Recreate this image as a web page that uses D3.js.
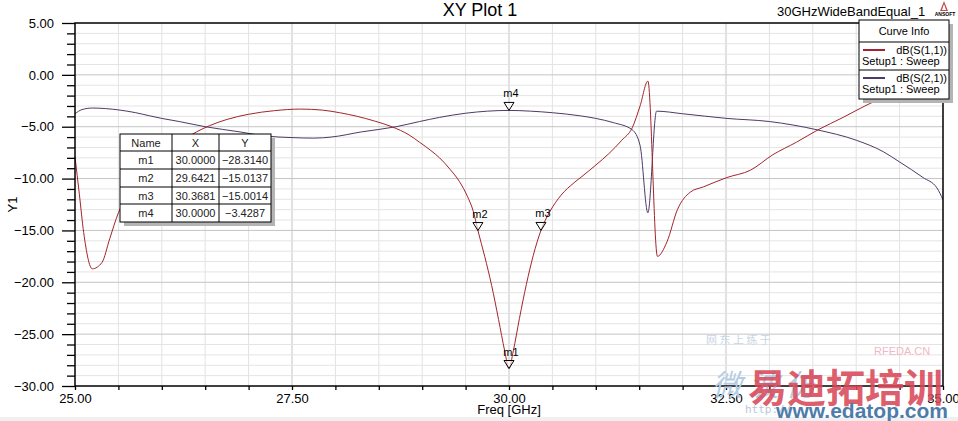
<!DOCTYPE html>
<html>
<head>
<meta charset="utf-8">
<script src="https://cdn.jsdelivr.net/npm/d3@7"></script>
<style>
  html, body { margin: 0; padding: 0; background: #fff; }
  svg { display: block; font-family: "Liberation Sans", Arial, sans-serif; }
</style>
</head>
<body>
<div id="chart"></div>
<script>
// dB(S(1,1))
var s11Freq = [25.00, 25.05, 25.10, 25.20, 25.31, 25.40, 25.50, 25.75, 26.00, 26.20, 26.40, 26.55, 26.75, 27.00,
  27.30, 27.60, 27.85, 28.05, 28.25, 28.45, 28.65, 28.85, 28.97, 29.10, 29.20, 29.32, 29.43, 29.52, 29.59,
  29.6421, 29.72, 29.80, 29.88, 29.95, 30.00, 30.05, 30.12, 30.20, 30.28, 30.3681, 30.47, 30.60, 30.75, 30.84,
  31.00, 31.15, 31.30, 31.42, 31.51, 31.60, 31.71, 31.82, 31.94, 32.09, 32.24, 32.51, 32.78, 33.04, 33.31,
  33.56, 33.85, 34.10, 34.31, 34.60, 35.00];
var s11dB = [-7.9, -11.5, -15.2, -18.7, -18.1, -15.8, -13.3, -10.4, -8.2, -6.6, -5.5, -4.9, -4.3, -3.8,
  -3.45, -3.3, -3.4, -3.65, -4.0, -4.45, -5.0, -5.8, -6.5, -7.3, -8.0, -9.1, -10.3, -11.7, -13.2,
  -15.0137, -17.5, -20.3, -23.6, -26.6, -28.314, -26.6, -23.5, -20.2, -17.4, -15.0014, -13.2, -11.6, -10.4, -9.8,
  -8.7, -7.6, -6.3, -5.1, -3.0, -0.6, -17.5, -16.1, -13.0, -11.3, -10.8, -9.9, -9.2, -7.7, -6.5,
  -5.3, -4.1, -3.0, -2.2, -1.5, -0.9];

// dB(S(2,1))
var s21Freq = [25.00, 25.08, 25.20, 25.35, 25.52, 25.70, 25.86, 26.00, 26.20, 26.50, 26.90, 27.20, 27.50, 27.75,
  27.95, 28.30, 28.70, 28.97, 29.20, 29.50, 29.75, 30.00, 30.25, 30.50, 30.82, 31.00, 31.20, 31.42, 31.51,
  31.60, 31.70, 32.00, 32.51, 33.00, 33.55, 34.00, 34.31, 34.50, 34.77, 34.93, 35.00];
var s21dB = [-3.75, -3.35, -3.2, -3.25, -3.4, -3.65, -3.95, -4.2, -4.5, -5.0, -5.5, -5.9, -6.05, -6.1,
  -6.0, -5.5, -5.0, -4.5, -4.1, -3.7, -3.5, -3.4287, -3.5, -3.65, -3.95, -4.2, -4.6, -5.3, -6.8,
  -13.3, -3.5, -3.75, -4.2, -4.5, -5.3, -6.3, -7.4, -8.4, -9.9, -10.9, -12.05];

var markerNames = ["m1", "m2", "m3", "m4"];
var markerX = [30.0000, 29.6421, 30.3681, 30.0000];
var markerY = [-28.3140, -15.0137, -15.0014, -3.4287];

var curveNames = ["dB(S(1,1))", "dB(S(2,1))"];
var curveColors = ["#a3242c", "#4e3a66"];

var W = 958, H = 421;
var x = d3.scaleLinear().domain([25, 35]).range([75, 943]);
var y = d3.scaleLinear().domain([-30, 5]).range([386, 23]);
var f2 = d3.format(".2f"), f4 = d3.format(".4f");

var svg = d3.select("#chart").append("svg").attr("width", W).attr("height", H);

// bottom strip of the window
svg.append("rect").attr("x", 0).attr("y", 417).attr("width", W).attr("height", 4).attr("fill", "#f0f0f0");

// grid
var grid = svg.append("g");
grid.selectAll(".vg").data(d3.range(25.5, 35, 0.5)).enter().append("line")
  .attr("x1", function (d) { return x(d); }).attr("x2", function (d) { return x(d); })
  .attr("y1", y(5)).attr("y2", y(-30))
  .attr("stroke", function (d) { return Math.abs(d % 2.5) < 1e-6 ? "#c4c4c4" : "#e2e2e2"; });
grid.selectAll(".hg").data(d3.range(-29, 5, 1)).enter().append("line")
  .attr("x1", x(25)).attr("x2", x(35))
  .attr("y1", function (d) { return y(d); }).attr("y2", function (d) { return y(d); })
  .attr("stroke", function (d) { return d % 5 === 0 ? "#c4c4c4" : "#e4e4e4"; });

// curves
var clip = svg.append("clipPath").attr("id", "plotclip").append("rect")
  .attr("x", x(25)).attr("y", y(5)).attr("width", x(35) - x(25)).attr("height", y(-30) - y(5));

var line = d3.line()
  .x(function (d) { return x(d[0]); })
  .y(function (d) { return y(d[1]); })
  .curve(d3.curveMonotoneX);

var curves = svg.append("g").attr("clip-path", "url(#plotclip)");
curves.append("path").datum(d3.zip(s21Freq, s21dB))
  .attr("d", line).attr("fill", "none").attr("stroke", curveColors[1]).attr("stroke-width", 1);
curves.append("path").datum(d3.zip(s11Freq, s11dB))
  .attr("d", line).attr("fill", "none").attr("stroke", curveColors[0]).attr("stroke-width", 1);

// frame
svg.append("rect").attr("x", x(25)).attr("y", y(5))
  .attr("width", x(35) - x(25)).attr("height", y(-30) - y(5))
  .attr("fill", "none").attr("stroke", "#000").attr("stroke-width", 1.5);

// y axis
var yAxis = d3.axisLeft(y)
  .tickValues(d3.range(-30, 5.01, 1))
  .tickSizeInner(8).tickSizeOuter(0).tickPadding(13)
  .tickFormat(function (d) { return d % 5 === 0 ? f2(d) : ""; });
var gy = svg.append("g").attr("transform", "translate(" + x(25) + ",0)").call(yAxis);
gy.select(".domain").remove();
gy.selectAll(".tick line").attr("stroke", "#000").attr("stroke-width", 1.3)
  .attr("x2", function (d) { return d % 5 === 0 ? -13 : -8; });
gy.selectAll(".tick text").attr("font-size", 13).attr("fill", "#000").attr("font-family", null);

// x axis
var xAxis = d3.axisBottom(x)
  .tickValues(d3.range(25, 35.01, 0.5))
  .tickSizeInner(4).tickSizeOuter(0).tickPadding(4)
  .tickFormat(function (d) { return Math.abs(d % 2.5) < 1e-6 ? f2(d) : ""; });
var gx = svg.append("g").attr("transform", "translate(0," + y(-30) + ")").call(xAxis);
gx.select(".domain").remove();
gx.selectAll(".tick line").attr("stroke", "#000").attr("stroke-width", 1.3);
gx.selectAll(".tick text").attr("font-size", 13).attr("fill", "#000").attr("font-family", null);

svg.append("text").attr("x", x(30)).attr("y", 414).attr("text-anchor", "middle")
  .attr("font-size", 13).text("Freq [GHz]");
svg.append("text").attr("transform", "translate(17," + y(-12.5) + ") rotate(-90)")
  .attr("text-anchor", "middle").attr("font-size", 13).text("Y1");

// titles
svg.append("text").attr("x", 480).attr("y", 16).attr("text-anchor", "middle")
  .attr("font-size", 18).text("XY Plot 1");
svg.append("text").attr("x", 777).attr("y", 16).attr("font-size", 13).text("30GHzWideBandEqual_1");
svg.append("path").attr("d", "M944,1 L940,11 L948,11 Z").attr("fill", "#c0504d");
svg.append("path").attr("d", "M944,4 L942,10 L946,10 Z").attr("fill", "#fff");
svg.append("text").attr("x", 945).attr("y", 16).attr("text-anchor", "middle")
  .attr("font-size", 5).attr("font-weight", "bold").text("ANSOFT");

// markers
var mk = svg.append("g").selectAll("g").data(markerNames).enter().append("g")
  .attr("transform", function (d, i) { return "translate(" + x(markerX[i]) + "," + y(markerY[i]) + ")"; });
mk.append("path").attr("d", "M0,0 L-5,-8 L5,-8 Z")
  .attr("fill", "#fff").attr("fill-opacity", 0.6).attr("stroke", "#000").attr("stroke-width", 1);
mk.append("text").attr("x", 2).attr("y", -13).attr("text-anchor", "middle")
  .attr("font-size", 11).text(function (d) { return d; });

// marker table
var tbl = svg.append("g");
var colX = [120, 172, 219, 271];
var rowY = [134, 151, 169, 187, 204, 222];
tbl.append("rect").attr("x", colX[0] + 4).attr("y", rowY[0] + 4)
  .attr("width", colX[3] - colX[0]).attr("height", rowY[5] - rowY[0]).attr("fill", "#b4b4b4");
tbl.append("rect").attr("x", colX[0]).attr("y", rowY[0])
  .attr("width", colX[3] - colX[0]).attr("height", rowY[5] - rowY[0])
  .attr("fill", "#fff").attr("stroke", "#000").attr("stroke-width", 1);
[colX[1], colX[2]].forEach(function (cx) {
  tbl.append("line").attr("x1", cx).attr("x2", cx).attr("y1", rowY[0]).attr("y2", rowY[5]).attr("stroke", "#000");
});
rowY.slice(1, 5).forEach(function (ry) {
  tbl.append("line").attr("x1", colX[0]).attr("x2", colX[3]).attr("y1", ry).attr("y2", ry).attr("stroke", "#000");
});
var cells = [["Name", "X", "Y"]].concat(markerNames.map(function (n, i) {
  return [n, f4(markerX[i]), f4(markerY[i])];
}));
cells.forEach(function (row, r) {
  row.forEach(function (c, k) {
    tbl.append("text").attr("x", (colX[k] + colX[k + 1]) / 2).attr("y", rowY[r] + 13)
      .attr("text-anchor", "middle").attr("font-size", 11).attr("fill", "#222").text(c);
  });
});

// legend
var lg = svg.append("g");
lg.append("rect").attr("x", 863).attr("y", 24).attr("width", 90).attr("height", 79).attr("fill", "#b4b4b4");
lg.append("rect").attr("x", 859).attr("y", 20).attr("width", 90).attr("height", 79)
  .attr("fill", "#fff").attr("stroke", "#000").attr("stroke-width", 1);
lg.append("line").attr("x1", 859).attr("x2", 949).attr("y1", 42).attr("y2", 42).attr("stroke", "#000");
lg.append("line").attr("x1", 859).attr("x2", 949).attr("y1", 70).attr("y2", 70).attr("stroke", "#000");
lg.append("text").attr("x", 904).attr("y", 35).attr("text-anchor", "middle").attr("font-size", 11).text("Curve Info");
curveNames.forEach(function (n, i) {
  var top = 42 + i * 28;
  lg.append("line").attr("x1", 863).attr("x2", 885).attr("y1", top + 8).attr("y2", top + 8)
    .attr("stroke", curveColors[i]).attr("stroke-width", 2);
  lg.append("text").attr("x", 947).attr("y", top + 12).attr("text-anchor", "end").attr("font-size", 11).text(n);
  lg.append("text").attr("x", 862).attr("y", top + 23).attr("font-size", 11).text("Setup1 : Sweep");
});

// watermark
var wm = svg.append("g").attr("pointer-events", "none");
wm.append("text").attr("x", 706).attr("y", 344).attr("font-size", 11).attr("fill", "#c8d6e6")
  .attr("font-family", "Noto Sans CJK SC").text("网 东 上 练 于");
wm.append("text").attr("x", 874).attr("y", 355).attr("font-size", 11).attr("fill", "#f0b8c4").text("RFEDA.CN");
wm.append("text").attr("x", 712).attr("y", 396).attr("font-size", 30).attr("fill", "#b4cce4")
  .attr("font-style", "italic").attr("font-family", "Noto Sans CJK SC").text("微 波 仿");
wm.append("text").attr("x", 748).attr("y", 402).attr("font-size", 39).attr("font-weight", "bold")
  .attr("fill", "#d9495a").attr("fill-opacity", 0.9).attr("font-family", "Noto Sans CJK SC").text("易迪拓培训");
wm.append("text").attr("x", 745).attr("y", 413).attr("font-size", 11).attr("fill", "#b8c8d8")
  .attr("font-family", "DejaVu Sans Mono").text("http://");
wm.append("text").attr("x", 948).attr("y", 418).attr("text-anchor", "end").attr("font-size", 21)
  .attr("font-weight", "bold").attr("fill", "#4d7cab").text("www.edatop.com");
</script>
</body>
</html>
